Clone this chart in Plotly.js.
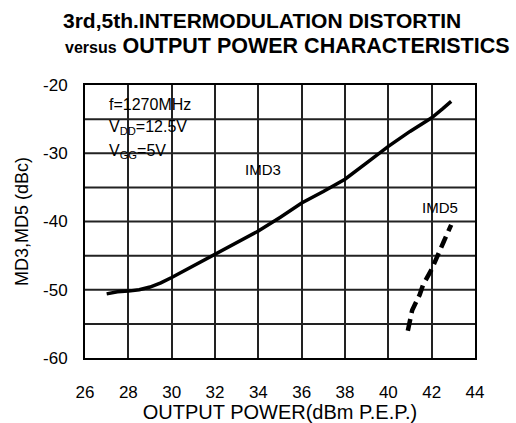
<!DOCTYPE html>
<html><head><meta charset="utf-8">
<script src="https://cdn.plot.ly/plotly-3.0.1.min.js"></script>
<style>body{margin:0;background:#fff}#c{width:516px;height:423px}</style>
</head><body><div id="c"></div>
<script>
const imd3X = [27.0, 27.5, 28.0, 28.5, 29.0, 29.5, 30.0, 31.0, 32.0, 33.0, 34.0, 35.0, 36.0, 37.0, 38.0, 39.0, 40.0, 41.0, 42.0, 42.5, 42.9];
const imd3Y = [-50.6, -50.3, -50.2, -50.0, -49.6, -49.0, -48.2, -46.5, -44.8, -43.1, -41.4, -39.4, -37.3, -35.6, -33.8, -31.4, -29.0, -26.8, -24.8, -23.5, -22.4];
const imd5X = [40.9, 41.1, 41.45, 41.6, 42.0, 42.3, 42.55, 42.9];
const imd5Y = [-56.0, -53.0, -50.7, -49.3, -47.0, -45.0, -43.0, -40.5];
const xTicks = [26, 28, 30, 32, 34, 36, 38, 40, 42, 44];
const yTicks = [-20, -30, -40, -50, -60];

const font = 'Liberation Sans, Arial, sans-serif';
const traces = [
  {x: imd3X, y: imd3Y, mode: 'lines', line: {color: '#000', width: 3.5}, hoverinfo: 'skip'},
  {x: imd5X, y: imd5Y, mode: 'lines', line: {color: '#000', width: 4.5, dash: '12px,6px'}, hoverinfo: 'skip'}
];
const ann = [
  {xref: 'paper', yref: 'paper', x: 0.454, y: 1.238, yanchor: 'middle', xanchor: 'center', text: '<b>3rd,5th.INTERMODULATION DISTORTIN</b>', showarrow: false, font: {size: 21, color: '#000', family: font}},
  {xref: 'paper', yref: 'paper', x: 0.518, y: 1.143, yanchor: 'middle', xanchor: 'center', text: '<b><span style="font-size:16px">versus</span> OUTPUT POWER CHARACTERISTICS</b>', showarrow: false, font: {size: 21.5, color: '#000', family: font}},
  {x: 27.0, y: -22.9, xanchor: 'left', text: 'f=1270MHz', showarrow: false, font: {size: 16, color: '#000', family: font}},
  {x: 27.0, y: -26.2, xanchor: 'left', text: 'V<sub>DD</sub>=12.5V', showarrow: false, font: {size: 16, color: '#000', family: font}},
  {x: 27.0, y: -29.7, xanchor: 'left', text: 'V<sub>GG</sub>=5V', showarrow: false, font: {size: 16, color: '#000', family: font}},
  {x: 34.2, y: -32.4, text: 'IMD3', showarrow: false, font: {size: 15, color: '#000', family: font}},
  {x: 42.4, y: -37.9, text: 'IMD5', showarrow: false, font: {size: 15, color: '#000', family: font}}
];
const layout = {
  width: 516, height: 423,
  margin: {l: 85, r: 41, t: 85, b: 65},
  paper_bgcolor: '#fff', plot_bgcolor: '#fff',
  showlegend: false,
  font: {family: font, color: '#000', size: 17},
  xaxis: {range: [26, 44], tickvals: xTicks, ticktext: xTicks.map(String),
    showgrid: true, gridcolor: '#222', gridwidth: 2, zeroline: false,
    showline: true, linecolor: '#000', linewidth: 2, mirror: true, ticks: '', ticklen: 0,
    ticklabelstandoff: 18,
    tickfont: {size: 17}, title: {text: 'OUTPUT POWER(dBm P.E.P.)', font: {size: 20}, standoff: 2}},
  yaxis: {range: [-60, -20], tickvals: yTicks, ticktext: yTicks.map(String),
    showgrid: false, zeroline: false,
    showline: true, linecolor: '#000', linewidth: 2, mirror: true, ticks: '',
    ticklabelstandoff: 12,
    tickfont: {size: 17}, title: {text: 'MD3,MD5 (dBc)', font: {size: 18}, standoff: 10}},
  shapes: [-55, -50, -45, -40, -35, -30, -25].map(v => ({type: 'line', xref: 'paper', x0: 0, x1: 1, yref: 'y', y0: v, y1: v, line: {color: '#222', width: 2}, layer: 'below'})),
  annotations: ann
};
Plotly.newPlot('c', traces, layout, {staticPlot: true, displayModeBar: false});
</script></body></html>
